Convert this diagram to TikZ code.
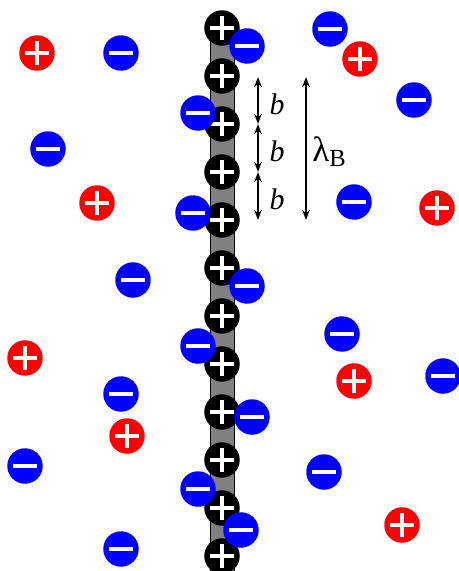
\documentclass[tikz,border=0pt]{standalone}
\usepackage{fontspec}
\setmainfont{Liberation Serif}
\usepackage{tikz}
\usetikzlibrary{arrows.meta}
\tikzset{
  sgn/.style={white, line width=0.095cm},
  ion/.style={circle, inner sep=0pt, minimum size=0.71cm},
  minusion/.style={ion, fill=blue, path picture={
      \draw[sgn] ([xshift=-0.245cm]path picture bounding box.center) -- ([xshift=0.245cm]path picture bounding box.center);}},
  plusion/.style={ion, fill=red, path picture={
      \draw[sgn] ([xshift=-0.245cm]path picture bounding box.center) -- ([xshift=0.245cm]path picture bounding box.center);
      \draw[sgn] ([yshift=-0.245cm]path picture bounding box.center) -- ([yshift=0.245cm]path picture bounding box.center);}},
  bead/.style={plusion, fill=black},
  dim/.style={{Stealth[length=0.2cm,width=0.15cm]}-{Stealth[length=0.2cm,width=0.15cm]}, line width=0.85pt},
  lbl/.style={font=\fontsize{17}{19}\selectfont, inner sep=0pt}
}
\begin{document}
\begin{tikzpicture}[x=0.02cm, y=-0.02cm]
\useasboundingbox (0,0) rectangle (458,571);
% rod
\draw[fill=gray, line width=0.4pt] (210,28) rectangle (234,571);
% fixed charges on the rod
\foreach \i in {0,...,11}
  \node[bead] (k\i) at (222,{28+48*\i}) {};
% counterions and coions
\foreach \x/\y [count=\n] in {121/53, 247/46, 330/29, 414/100, 198/113, 48/149, 193/213,
    354/202, 133/280, 247/286, 198/346, 342/334, 443/376, 121/394, 252/417, 25/466,
    324/472, 198/489, 241/530, 121/549}
  \node[minusion] (m\n) at (\x,\y) {};
\foreach \x/\y [count=\n] in {37/53, 360/59, 97/203, 437/208, 25/358, 354/381, 127/436, 402/525}
  \node[plusion] (p\n) at (\x,\y) {};
% spacing b and Bjerrum length
\coordinate (b0) at (258,77);
\coordinate (b1) at (258,124);
\coordinate (b2) at (258,172);
\coordinate (b3) at (258,220);
\coordinate (l0) at (306,77);
\coordinate (l1) at (306,220);
\draw[dim] (b0) -- (b1);
\draw[dim] (b1) -- (b2);
\draw[dim] (b2) -- (b3);
\draw[dim] (l0) -- (l1);
\node[lbl] (lb1) at (277,104) {\textit{b}};
\node[lbl] (lb2) at (277,151) {\textit{b}};
\node[lbl] (lb3) at (277,199) {\textit{b}};
\node[lbl, anchor=west] (llb) at (312,152) {\fontsize{20}{22}\selectfont λ\raisebox{-0.3ex}{\fontsize{14}{14}\selectfont B}};
\end{tikzpicture}
\end{document}
